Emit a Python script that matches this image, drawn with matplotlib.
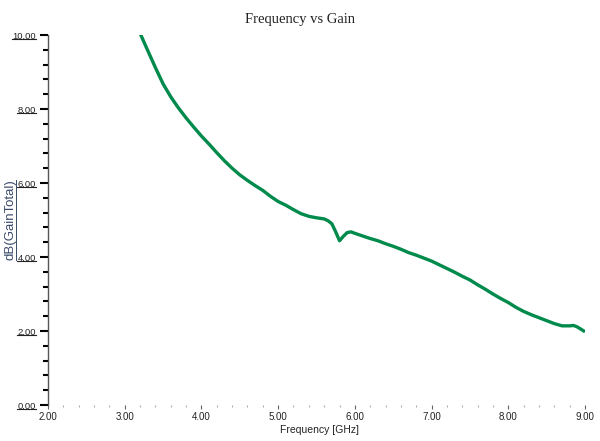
import matplotlib
matplotlib.use("Agg")
import matplotlib.pyplot as plt
from matplotlib.ticker import MultipleLocator, FormatStrFormatter
from matplotlib.lines import Line2D

freq = [3.20, 3.30, 3.40, 3.50, 3.60, 3.70, 3.80, 3.90, 4.00, 4.10, 4.20, 4.30,
        4.40, 4.50, 4.60, 4.70, 4.80, 4.90, 5.00, 5.10, 5.20, 5.30, 5.40, 5.50,
        5.60, 5.65, 5.70, 5.75, 5.80, 5.85, 5.90, 5.95, 6.00, 6.10, 6.20, 6.30,
        6.40, 6.50, 6.60, 6.70, 6.80, 6.90, 7.00, 7.10, 7.20, 7.30, 7.40, 7.50,
        7.60, 7.70, 7.80, 7.90, 8.00, 8.10, 8.20, 8.30, 8.40, 8.50, 8.60, 8.70,
        8.80, 8.85, 8.90, 9.00]
gain = [10.05, 9.58, 9.12, 8.68, 8.33, 8.03, 7.76, 7.51, 7.27, 7.05, 6.82, 6.60,
        6.40, 6.22, 6.07, 5.93, 5.80, 5.64, 5.50, 5.40, 5.28, 5.17, 5.10, 5.06,
        5.03, 4.98, 4.90, 4.68, 4.44, 4.56, 4.66, 4.68, 4.64, 4.57, 4.50, 4.44,
        4.36, 4.29, 4.21, 4.12, 4.05, 3.97, 3.89, 3.79, 3.69, 3.59, 3.48, 3.38,
        3.25, 3.13, 3.00, 2.88, 2.77, 2.64, 2.53, 2.44, 2.36, 2.28, 2.20, 2.14,
        2.14, 2.15, 2.11, 1.98]

title = "Frequency vs Gain"
xlabel = "Frequency [GHz]"
ylabel = "dB(GainTotal)"

narrow = ["Liberation Sans Narrow", "Liberation Sans", "DejaVu Sans"]

fig = plt.figure(figsize=(6.0, 4.41), dpi=100)
ax = fig.add_axes([0.08, 0.0816, 0.895, 0.839])
ax.plot(freq, gain, color="#008a4b", lw=2.4, solid_capstyle="butt", clip_on=True)
ax.set_xlim(2.0, 9.0)
ax.set_ylim(0.0, 10.0)

for s in ["top", "right", "bottom"]:
    ax.spines[s].set_visible(False)
ax.spines["left"].set_color("#555555")
ax.spines["left"].set_linewidth(1.0)

ax.xaxis.set_major_locator(MultipleLocator(1.0))
ax.xaxis.set_minor_locator(MultipleLocator(0.2))
ax.yaxis.set_major_locator(MultipleLocator(2.0))
ax.yaxis.set_minor_locator(MultipleLocator(0.4))
ax.xaxis.set_major_formatter(FormatStrFormatter("%.2f"))
ax.yaxis.set_major_formatter(FormatStrFormatter("%.2f"))

ax.tick_params(axis="y", which="major", direction="out", length=5.8, width=1.5,
               color="black", labelsize=6.8, pad=3, labelcolor="#222222")
ax.tick_params(axis="y", which="minor", direction="out", length=3.6, width=1.5,
               color="black")
ax.tick_params(axis="x", which="major", direction="out", length=3, width=0.8,
               color="#666666", labelsize=7, pad=2, labelcolor="#222222")
ax.tick_params(axis="x", which="minor", direction="out", length=1.5, width=0.8,
               color="#aaaaaa")
for lab in ax.get_xticklabels() + ax.get_yticklabels():
    lab.set_family(narrow)
    lab.set_stretch("condensed")

ax.set_xlabel(xlabel, family=narrow, fontsize=7.5, color="#222222")
ax.xaxis.set_label_coords(0.505, -0.055)
ax.set_ylabel(ylabel, family=narrow, fontsize=9.5, color="#3b4a6b")
ax.yaxis.set_label_coords(-0.058, 0.5)
fig.suptitle(title, x=0.5, y=0.97, family=["Liberation Serif", "DejaVu Serif"],
             fontsize=10.5, color="#222222")

# underline the y tick labels and the y label
fig.canvas.draw()
r = fig.canvas.get_renderer()
W = fig.bbox.width
H = fig.bbox.height
for lab in ax.get_yticklabels():
    if not lab.get_visible() or lab.get_text() == "":
        continue
    bb = lab.get_window_extent(r)
    y = bb.y0 + 1.5
    fig.add_artist(Line2D([bb.x0 / W, bb.x1 / W], [y / H, y / H],
                          color="#222222", lw=0.8))
bb = ax.yaxis.label.get_window_extent(r)
x = bb.x1 - 0.5
fig.add_artist(Line2D([x / W, x / W], [bb.y0 / H, bb.y1 / H],
                      color="#3b4a6b", lw=0.7))

fig.savefig("out.png", dpi=100)
